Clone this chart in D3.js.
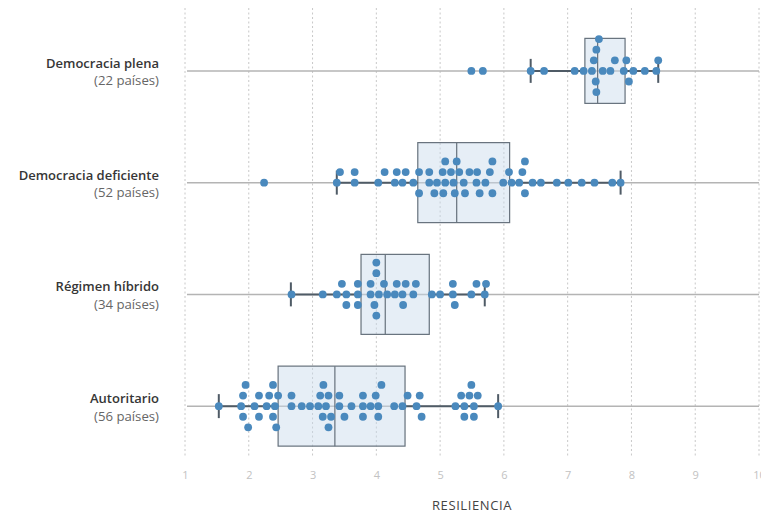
<!DOCTYPE html>
<html>
<head>
<meta charset="utf-8">
<script src="https://cdn.jsdelivr.net/npm/d3@7"></script>
<style>
  html, body { margin: 0; padding: 0; background: #ffffff; }
  svg { display: block; }
</style>
</head>
<body>
<svg id="chart" width="761" height="515"></svg>
<script>
// ---------------- DATA ----------------
const categories = ["Democracia plena", "Democracia deficiente", "Régimen híbrido", "Autoritario"];
const countLabels = ["(22 países)", "(52 países)", "(34 países)", "(56 países)"];

const plenaValues = [5.49, 5.67, 6.42, 6.63, 7.11, 7.25, 7.44, 7.38, 7.49, 7.45, 7.45, 7.41,
  7.55, 7.67, 7.74, 7.88, 8.03, 7.96, 7.92, 8.21, 8.39, 8.42];

const deficienteValues = [2.24,
  3.38, 3.66, 4.03, 4.32, 4.46, 4.67, 4.91, 5.05, 5.17, 5.23, 5.39, 5.57, 5.71, 5.78, 6.08, 6.33,
  3.43, 3.66, 4.13, 4.29, 4.41, 4.67, 4.83, 5.04, 5.30, 5.46, 5.62, 5.82, 5.99, 6.12, 6.33, 6.45,
  6.58, 6.83, 7.01, 7.22, 7.42, 7.70, 7.83,
  4.58, 4.83, 4.95, 5.08, 5.26, 5.37, 5.58, 5.82, 6.24,
  5.08, 5.21, 6.29];

const hibridoValues = [3.97, 4.04,
  3.46, 3.71, 3.91, 4.17, 4.41, 4.62, 5.20, 5.57, 5.70,
  2.67, 3.16, 3.38, 3.53, 3.71, 3.91, 4.12, 4.29, 4.42, 4.58, 4.87, 5.00, 5.23, 5.49, 5.72,
  3.53, 3.71, 4.00, 4.32, 4.46, 5.20,
  4.00, 4.00];

const autoritarioValues = [2.43, 3.16,
  1.91, 2.38, 3.29, 3.99, 5.49,
  1.95, 2.16, 2.38, 2.67, 3.17, 3.42, 3.79, 4.03, 4.49, 4.71, 5.33, 5.46, 5.59,
  1.53, 1.91, 2.09, 2.28, 2.46, 2.67, 2.83, 2.96, 3.12, 3.25, 3.50, 3.61, 3.79, 3.91, 4.08, 4.28,
  4.41, 4.63, 5.24, 5.38, 5.53, 5.91,
  1.88, 1.99, 2.16, 2.32, 3.09, 3.25, 3.42, 3.79, 4.03, 4.68, 5.38, 5.53,
  2.41, 3.21];

const seriesValues = [plenaValues, deficienteValues, hibridoValues, autoritarioValues];

// box statistics
const q1Values      = [7.27, 4.65, 3.76, 2.46];
const medianValues  = [7.47, 5.26, 4.14, 3.35];
const q3Values      = [7.90, 6.09, 4.83, 4.45];
const whiskerLow    = [6.42, 3.38, 2.66, 1.53];
const whiskerHigh   = [8.42, 7.83, 5.70, 5.91];

const tickValues = [1, 2, 3, 4, 5, 6, 7, 8, 9, 10];
const axisTitle = "RESILIENCIA";

// ---------------- DRAW ----------------
const svg = d3.select("#chart");
const font = "'Open Sans', 'Noto Sans', sans-serif";

const x = d3.scaleLinear().domain([1, 10]).range([185, 759]);
const y = d3.scaleBand().domain(categories).range([15, 462]).padding(0);
const yc = c => y(c) + y.bandwidth() / 2;

// vertical dotted gridlines
svg.append("g").selectAll("line").data(tickValues).join("line")
  .attr("x1", d => x(d)).attr("x2", d => x(d))
  .attr("y1", 8).attr("y2", 458)
  .attr("stroke", "#c8c8c8").attr("stroke-width", 1)
  .attr("stroke-dasharray", "2,2.5");

// axis (tick labels only)
const axis = d3.axisBottom(x).tickValues(tickValues).tickSize(0).tickPadding(0).tickFormat(d3.format("d"));
const gAxis = svg.append("g").attr("transform", "translate(0,471)").call(axis);
gAxis.select(".domain").remove();
gAxis.selectAll("text")
  .attr("fill", "#c2c2c2").attr("font-family", font).attr("font-size", 11);

svg.append("text")
  .attr("x", 472).attr("y", 510)
  .attr("text-anchor", "middle")
  .attr("font-family", font).attr("font-size", 13).attr("font-weight", 500)
  .attr("fill", "#444444").attr("letter-spacing", 0.6)
  .text(axisTitle);

// horizontal category lines
svg.append("g").selectAll("line").data(categories).join("line")
  .attr("x1", x(1) + 2).attr("x2", x(10))
  .attr("y1", d => yc(d)).attr("y2", d => yc(d))
  .attr("stroke", "#b4b4b4").attr("stroke-width", 1.5);

// category labels
const labels = svg.append("g");
categories.forEach((c, i) => {
  labels.append("text")
    .attr("x", 159).attr("y", yc(c) - 3)
    .attr("text-anchor", "end")
    .attr("font-family", font).attr("font-size", 13).attr("font-weight", 600)
    .attr("fill", "#363636")
    .text(c);
  labels.append("text")
    .attr("x", 159).attr("y", yc(c) + 14.5)
    .attr("text-anchor", "end")
    .attr("font-family", font).attr("font-size", 13.2)
    .attr("fill", "#666666")
    .text(countLabels[i]);
});

// boxes + whiskers
const boxStroke = "#66717c";
const gBox = svg.append("g");
categories.forEach((c, i) => {
  const cy = yc(c);
  const half = i === 0 ? 32.5 : 40;
  const cap = 12;
  gBox.append("rect")
    .attr("x", x(q1Values[i])).attr("y", cy - half)
    .attr("width", x(q3Values[i]) - x(q1Values[i])).attr("height", half * 2)
    .attr("fill", "rgba(200,218,234,0.45)")
    .attr("stroke", boxStroke).attr("stroke-width", 1.2);
  gBox.append("line")
    .attr("x1", x(medianValues[i])).attr("x2", x(medianValues[i]))
    .attr("y1", cy - half).attr("y2", cy + half)
    .attr("stroke", boxStroke).attr("stroke-width", 1.2);
  [[whiskerLow[i], q1Values[i]], [q3Values[i], whiskerHigh[i]]].forEach(([a, b]) => {
    gBox.append("line")
      .attr("x1", x(a)).attr("x2", x(b))
      .attr("y1", cy).attr("y2", cy)
      .attr("stroke", "#4f5b66").attr("stroke-width", 2);
  });
  [whiskerLow[i], whiskerHigh[i]].forEach(v => {
    gBox.append("line")
      .attr("x1", x(v)).attr("x2", x(v))
      .attr("y1", cy - cap).attr("y2", cy + cap)
      .attr("stroke", "#4f5b66").attr("stroke-width", 2);
  });
});

// row-based swarm: first free row slot (0, -1, +1, -2, +2, ...)
function swarm(values, minDx, rowStep) {
  const pts = values.map(v => ({ v, x: x(v), row: 0 })).sort((a, b) => a.x - b.x);
  const placed = [];
  const order = [0, -1, 1, -2, 2, -3, 3, -4, 4];
  for (const p of pts) {
    for (const r of order) {
      if (placed.every(q => q.row !== r || Math.abs(q.x - p.x) >= minDx)) { p.row = r; break; }
    }
    placed.push(p);
  }
  return pts.map(p => ({ v: p.v, x: p.x, off: p.row * rowStep }));
}

const gDots = svg.append("g");
categories.forEach((c, i) => {
  const pts = swarm(seriesValues[i], 7.2, 10.6);
  gDots.selectAll(null).data(pts).join("circle")
    .attr("cx", d => d.x)
    .attr("cy", d => yc(c) + d.off)
    .attr("r", 3.9)
    .attr("fill", "#4a89bd");
});
</script>
</body>
</html>
